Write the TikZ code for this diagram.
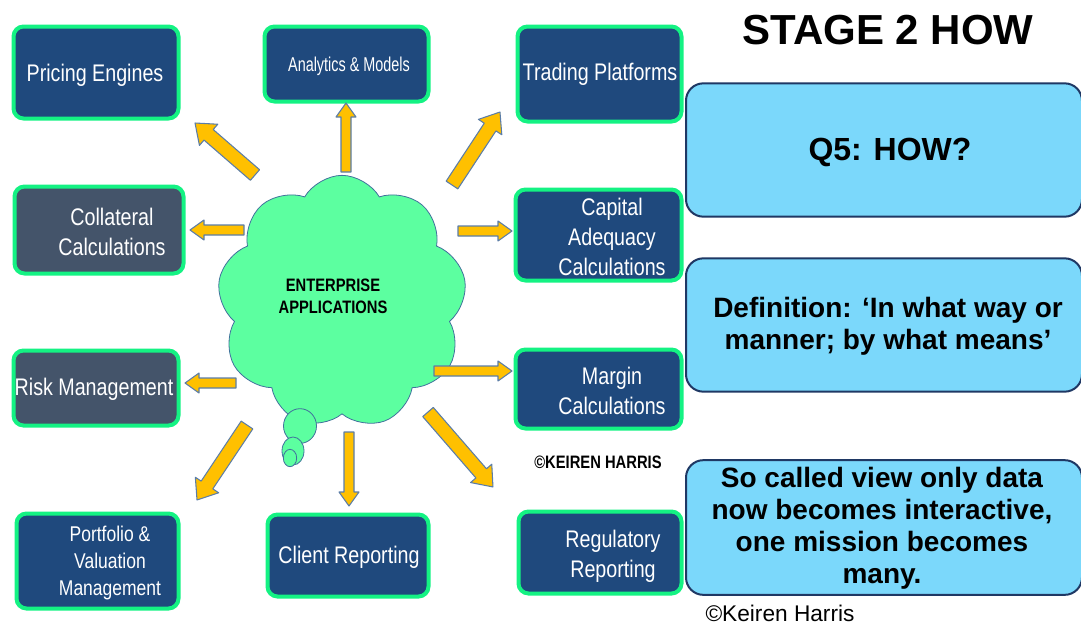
\documentclass[tikz,border=0pt]{standalone}
\usepackage{fontspec}
\setmainfont{Liberation Sans}
\newfontfamily\narrowfont[FakeStretch=0.82]{Liberation Sans}
\newfontfamily\tightfont[FakeStretch=0.72]{Liberation Sans}
\usepackage{tikz}
\usetikzlibrary{shapes.symbols, shapes.geometric}
\usepackage{xcolor}

\definecolor{boxblue}{HTML}{1F497D}
\definecolor{boxgray}{HTML}{44546A}
\definecolor{boxgreen}{HTML}{14F283}
\definecolor{arrowfill}{HTML}{FFC000}
\definecolor{arrowline}{HTML}{5B7DA8}
\definecolor{cloudfill}{HTML}{5CFFA0}
\definecolor{cloudline}{HTML}{41719C}
\definecolor{infofill}{HTML}{7BD8FB}
\definecolor{infoline}{HTML}{1F3864}

\begin{document}
\begin{tikzpicture}[x=0.75pt, y=-0.75pt,
      appbox/.style={draw=boxgreen, line width=3pt, fill=boxblue, rounded corners=7.5pt},
      apptext/.style={text=white, font=\narrowfont\fontsize{18pt}{22.5pt}\selectfont,
          align=center, inner sep=0pt},
      infobox/.style={draw=infoline, line width=1.5pt, fill=infofill, rounded corners=13pt},
      infotext/.style={font=\bfseries\fontsize{21pt}{24pt}\selectfont, align=center, inner sep=0pt},
      blockarrow/.style={fill=arrowfill, draw=arrowline, line width=0.8pt, line join=round},
      bubble/.style={ellipse, fill=cloudfill, draw=cloudline, line width=0.6pt, inner sep=0pt},
    ]
    \useasboundingbox (0,0) rectangle (1081,626);

    % Application boxes
    \foreach \nm/\cx/\cy/\w/\h/\fl in {pric/96/72.5/165/92/boxblue, anal/346.5/64/164/75/boxblue,
        trad/599.5/74/164/95/boxblue, coll/99/230/169/87/boxgray, capi/598.5/235/166/91/boxblue,
        risk/96/388/165/75/boxgray, marg/598.5/389/166/79/boxblue, port/97.5/561/162/95/boxblue,
        clie/348/555.5/161/82/boxblue, regu/600/552.5/163/82/boxblue} {
        \node[appbox, fill=\fl, minimum width={\w*0.75pt}, minimum height={\h*0.75pt}] (\nm) at (\cx,\cy) {};
      }

    % Box labels
    \node[apptext] (pricT) at (95,75) {Pricing Engines};
    \node[apptext, font=\tightfont\fontsize{15pt}{18pt}\selectfont] (analT) at (349,66) {Analytics \& Models};
    \node[apptext] (tradT) at (600,74) {Trading Platforms};
    \node[apptext] (collT) at (112,232) {Collateral\\Calculations};
    \node[apptext] (capiT) at (612,237) {Capital\\Adequacy\\Calculations};
    \node[apptext] (riskT) at (94,389) {Risk Management};
    \node[apptext] (margT) at (612,391) {Margin\\Calculations};
    \node[apptext, font=\narrowfont\fontsize{16pt}{20pt}\selectfont] (portT) at (110,563) {Portfolio \&\\Valuation\\Management};
    \node[apptext] (clieT) at (349,557) {Client Reporting};
    \node[apptext] (reguT) at (613,556) {Regulatory\\Reporting};

    % Cloud in the middle
    \node[cloud, cloud puffs=9, cloud puff arc=120, cloud ignores aspect,
      minimum width=187pt, minimum height=190pt, fill=cloudfill, draw=cloudline, line width=0.6pt] (ent) at (342,302) {};
    \node[font=\narrowfont\bfseries\fontsize{13.5pt}{16.5pt}\selectfont, align=center, inner sep=0pt] (entT) at (333,296) {ENTERPRISE\\APPLICATIONS};
    \node[bubble, minimum width=24.75pt, minimum height=26pt] (bub1) at (300,426) {};
    \node[bubble, minimum width=16.5pt, minimum height=21pt] (bub2) at (293,451) {};
    \node[bubble, minimum width=10pt, minimum height=13pt] (bub3) at (290,458) {};

    % Block arrows: tail x/y, tip x/y, shaft, head width, head length
    \foreach \ax/\ay/\bx/\by/\sw/\hw/\hl in {255/175/195/123/14/28/18, 346/172/346/103/10/20/14,
        452/185/500/112/14/28/18, 244/230/190/230/10/20/14, 458/231/512/231/10/20/14,
        236/383/185/383/10/20/14, 434/371/512/371/10/20/14, 247/425/197/500/14/28/18,
        349/432/349/506/10/20/14, 428/412/493/487/14/28/18} {
        \pgfmathsetmacro{\ang}{atan2(\ay-\by,\bx-\ax)}
        \pgfmathsetmacro{\len}{veclen(\bx-\ax,\by-\ay)}
        \begin{scope}[shift={(\ax,\ay)}, rotate=\ang]
          \draw[blockarrow] (0,{-\sw/2}) -- ({\len-\hl},{-\sw/2}) -- ({\len-\hl},{-\hw/2}) -- (\len,0)
          -- ({\len-\hl},{\hw/2}) -- ({\len-\hl},{\sw/2}) -- (0,{\sw/2}) -- cycle;
        \end{scope}
      }

    % Right hand side
    \node[font=\bfseries\fontsize{31.5pt}{36pt}\selectfont, inner sep=0pt] (title) at (888,30) {STAGE 2 HOW};
    \node[infobox, minimum width=297pt, minimum height=100pt] (q5) at (884,150) {};
    \node[infotext, font=\bfseries\fontsize{24pt}{28pt}\selectfont] (q5T) at (890,152) {Q5: HOW?};
    \node[infobox, minimum width=297pt, minimum height=100pt] (defn) at (884,325) {};
    \node[infotext] (defnT) at (888,326) {Definition: ‘In what way or\\manner; by what means’};
    \node[infobox, minimum width=297pt, minimum height=101pt] (view) at (884,527.5) {};
    \node[infotext] (viewT) at (882,528) {So called view only data\\now becomes interactive,\\one mission becomes\\many.};

    % Copyright notes
    \node[font=\narrowfont\bfseries\fontsize{13.5pt}{16pt}\selectfont, inner sep=0pt] (copyA) at (598,462) {©KEIREN HARRIS};
    \node[font=\fontsize{17pt}{20pt}\selectfont, inner sep=0pt] (copyB) at (780,613) {©Keiren Harris};
  \end{tikzpicture}
\end{document}
